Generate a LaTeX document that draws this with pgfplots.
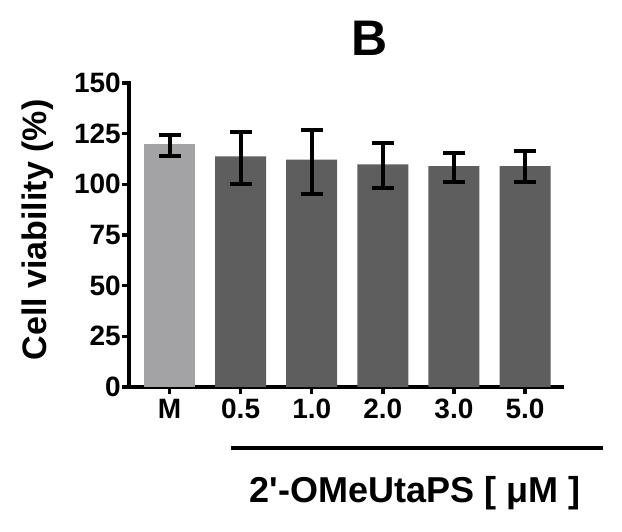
\documentclass[border=0pt]{standalone}
\usepackage{pgfplots}
\pgfplotsset{compat=1.18}
\usepackage{fontspec}
\setmainfont{Liberation Sans}
\definecolor{lightbar}{HTML}{A3A3A6}
\definecolor{darkbar}{HTML}{5E5E5E}
\begin{document}
\begin{tikzpicture}[x=1pt,y=1pt]
\useasboundingbox (0,0) rectangle (622,531);
\begin{axis}[
  at={(129pt,144pt)}, anchor=south west,
  scale only axis, width=433pt, height=304pt,
  xmin=-0.57, xmax=5.52, ymin=0, ymax=150,
  axis lines=left,
  axis line style={-, line width=4pt, line cap=rect},
  xtick={0,1,2,3,4,5},
  xticklabels={M,0.5,1.0,2.0,3.0,5.0},
  ytick={0,25,50,75,100,125,150},
  tick align=outside,
  major tick length=7pt,
  tick style={line width=3.5pt, black},
  /pgf/number format/assume math mode=true,
  ticklabel style={font=\fontsize{28}{28}\selectfont\bfseries},
  yticklabel style={inner xsep=1pt},
  xticklabel style={inner ysep=2pt, yshift=-3pt},
  clip=false,
]
\addplot[ybar, bar width=51pt, bar shift=0pt, fill=lightbar, draw=none,
  error bars/.cd, y dir=both, y explicit, error mark=|,
  error bar style={line width=4pt, black},
  error mark options={line width=4pt, mark size=11pt, black}]
  coordinates {(0,120.1) += (0,4.2) -= (0,5.9)};
\addplot[ybar, bar width=51pt, bar shift=0pt, fill=darkbar, draw=none,
  error bars/.cd, y dir=both, y explicit, error mark=|,
  error bar style={line width=4pt, black},
  error mark options={line width=4pt, mark size=11pt, black}]
  coordinates {
  (1,113.8) += (0,12.0) -= (0,13.8)
  (2,112.2) += (0,14.8) -= (0,17.1)
  (3,109.9) += (0,10.5) -= (0,11.8)
  (4,109.0) += (0,6.4) -= (0,7.7)
  (5,109.0) += (0,7.4) -= (0,7.7)
  };
\end{axis}
\node[font=\fontsize{50}{50}\selectfont\bfseries, anchor=base] at (370,475) {B};
\node[font=\fontsize{34}{34}\selectfont\bfseries, rotate=90, anchor=base] at (46,301) {Cell viability (\%)};
\draw[line width=4pt] (231,83) -- (603,83);
\node[font=\fontsize{36}{36}\selectfont\bfseries, anchor=base] at (415,29) {2\textquotesingle-OMeUtaPS [ μM ]};
\end{tikzpicture}
\end{document}
